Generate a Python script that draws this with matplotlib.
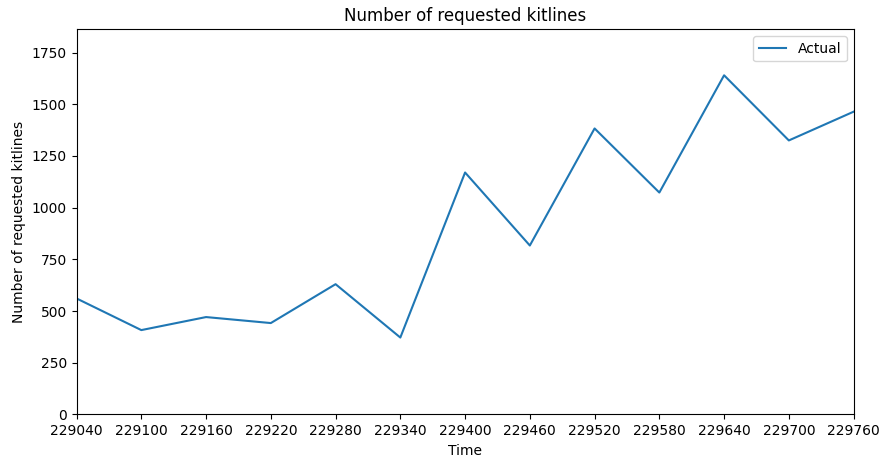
import matplotlib
matplotlib.use("Agg")
import matplotlib.pyplot as plt

# Time steps and requested kitline counts
time = [229040, 229100, 229160, 229220, 229280, 229340, 229400,
        229460, 229520, 229580, 229640, 229700, 229760]
actual = [561, 408, 471, 442, 630, 372, 1170, 817, 1383, 1073, 1640, 1325, 1464]

fig, ax = plt.subplots(figsize=(8.8, 4.59), dpi=100)
fig.subplots_adjust(left=0.087, right=0.97, top=0.936, bottom=0.097)

ax.plot(time, actual, color="#1f77b4", linewidth=1.5, label="Actual")
ax.set_xlim(time[0], time[-1])
ax.set_ylim(0, 1862)
ax.set_xticks(time)
ax.set_yticks([0, 250, 500, 750, 1000, 1250, 1500, 1750])
ax.set_title("Number of requested kitlines")
ax.set_xlabel("Time")
ax.set_ylabel("Number of requested kitlines")
ax.legend(loc="upper right")

fig.savefig("out.png", dpi=100)
